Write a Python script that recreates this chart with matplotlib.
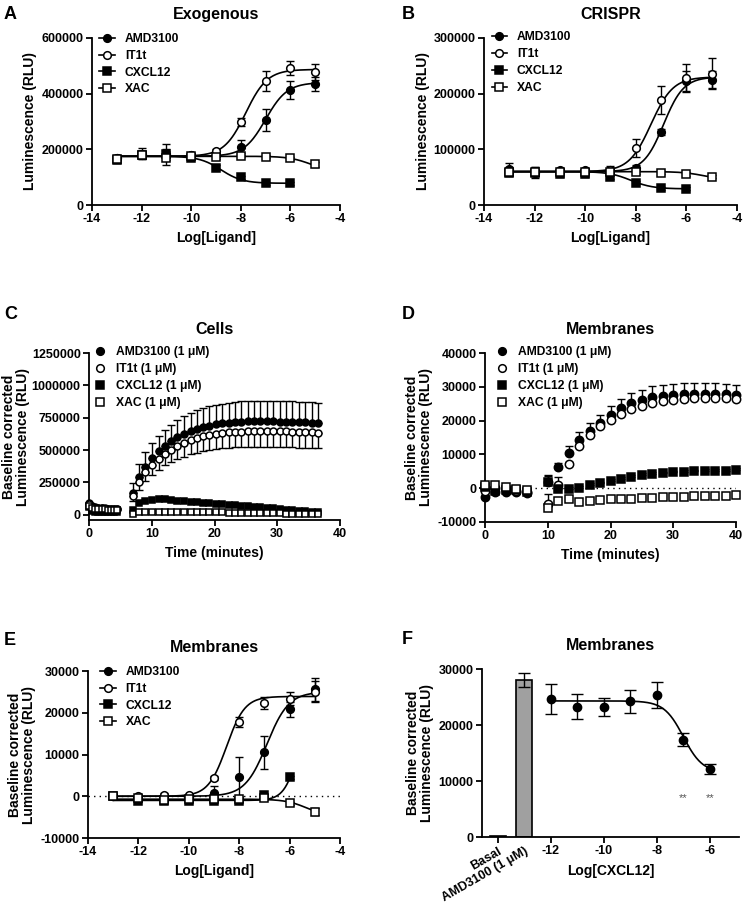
import numpy as np
import matplotlib
matplotlib.use("Agg")
import matplotlib.pyplot as plt
from matplotlib.lines import Line2D
from matplotlib.ticker import ScalarFormatter

plt.rcParams["font.family"] = ["Liberation Sans", "DejaVu Sans"]
plt.rcParams["font.weight"] = "bold"
plt.rcParams["axes.labelweight"] = "bold"
plt.rcParams["axes.titleweight"] = "bold"
plt.rcParams["axes.unicode_minus"] = False

W, H = 744, 905

# ---- dose response (A, B, E) ----
log_dose = [-13, -12, -11, -10, -9, -8, -7, -6, -5]
log_dose_cxcl = [-13, -12, -11, -10, -9, -8, -7, -6]
series_names = ["AMD3100", "IT1t", "CXCL12", "XAC"]

# A: Exogenous
a_amd = [170000, 185000, 185000, 178000, 180000, 210000, 306000, 414000, 435000]
a_amd_err = [10000, 18000, 15000, 8000, 8000, 22000, 40000, 33000, 25000]
a_it1t = [170000, 180000, 180000, 178000, 194000, 298000, 447000, 492000, 478000]
a_it1t_err = [8000, 15000, 38000, 8000, 8000, 15000, 36000, 25000, 28000]
a_cxcl = [160000, 180000, 185000, 170000, 134000, 100000, 78000, 78000]
a_cxcl_err = [8000, 10000, 10000, 8000, 8000, 5000, 5000, 5000]
a_xac = [165000, 180000, 170000, 175000, 172000, 176000, 174000, 168000, 146000]
a_xac_err = [5000, 8000, 8000, 5000, 5000, 5000, 5000, 5000, 8000]
# fitted curves: bottom, top, logEC50, hill
a_fit = {"AMD3100": (175000, 440000, -7.0, 1.0),
         "IT1t": (175000, 487000, -7.8, 1.0),
         "CXCL12": (78000, 175000, -8.8, -1.0),
         "XAC": (120000, 175000, -5.2, -1.0)}

# B: CRISPR
b_amd = [65000, 60000, 62000, 62000, 62000, 67000, 131000, 222000, 225000]
b_amd_err = [10000, 8000, 5000, 5000, 5000, 5000, 5000, 18000, 15000]
b_it1t = [60000, 58000, 60000, 60000, 62000, 103000, 189000, 228000, 236000]
b_it1t_err = [8000, 10000, 5000, 5000, 8000, 16000, 25000, 25000, 28000]
b_cxcl = [58000, 57000, 56000, 55000, 51000, 40000, 30000, 29400]
b_cxcl_err = [5000, 5000, 5000, 5000, 5000, 3000, 3000, 3000]
b_xac = [60000, 60000, 60000, 60000, 60000, 58800, 58200, 55800, 51000]
b_xac_err = [3000, 3000, 3000, 3000, 3000, 3000, 3000, 3000, 3000]
b_fit = {"AMD3100": (60000, 230000, -6.9, 1.1),
         "IT1t": (60000, 230000, -7.4, 1.0),
         "CXCL12": (29000, 60000, -8.2, -1.0),
         "XAC": (45000, 60000, -5.3, -1.0)}

# E: Membranes dose response
e_amd = [0, -600, -600, 0, 700, 4600, 10500, 20800, 25600]
e_amd_err = [500, 500, 500, 500, 1700, 4900, 3900, 1700, 2700]
e_it1t = [0, 0, 400, 300, 4300, 17800, 22300, 23400, 25000]
e_it1t_err = [300, 300, 300, 300, 500, 1200, 1500, 1500, 2500]
e_cxcl = [0, -1100, -1100, -1100, -1100, -1100, 300, 4500]
e_cxcl_err = [300, 300, 300, 300, 300, 300, 300, 300]
e_xac = [0, -500, -900, -700, -700, -700, -500, -1700, -3700]
e_xac_err = [300, 300, 300, 300, 300, 300, 300, 300, 800]
e_fit = {"AMD3100": (0, 25000, -6.9, 1.0),
         "IT1t": (0, 23900, -8.5, 1.2),
         "CXCL12": (-1000, 25000, -5.6, 1.5),
         "XAC": (-5000, -700, -5.3, -1.0)}

# ---- time courses (C, D) ----
c_t_pre = [0.0, 0.5, 1.0, 1.5, 2.0, 2.5, 3.0, 3.5, 4.0, 4.5]
c_t_post = [7.0, 8.0, 9.0, 10.1, 11.1, 12.1, 13.1, 14.1, 15.1, 16.2,
            17.2, 18.2, 19.2, 20.2, 21.2, 22.3, 23.3, 24.3, 25.3, 26.3,
            27.3, 28.4, 29.4, 30.4, 31.4, 32.4, 33.4, 34.5, 35.5, 36.5]
c_amd_pre = [90000, 70000, 60000, 55000, 50000, 50000, 48000, 48000, 46000, 45000]
c_it1t_pre = [80000, 60000, 55000, 52000, 50000, 48000, 47000, 46000, 45000, 45000]
c_cxcl_pre = [60000, 30000, 25000, 25000, 22000, 22000, 20000, 20000, 20000, 20000]
c_xac_pre = [70000, 50000, 45000, 45000, 42000, 42000, 40000, 40000, 40000, 40000]
c_amd = [172000, 296000, 373000, 438000, 490000, 528000, 567000, 600000, 625000, 645000,
         662000, 676000, 688000, 698000, 706000, 712000, 716000, 719000, 721000, 722000,
         722000, 722000, 721000, 720000, 719000, 718000, 716000, 714000, 712000, 710000]
c_amd_err = [75000, 100000, 110000, 115000, 120000, 125000, 130000, 135000, 138000, 141000,
             144000, 147000, 149000, 151000, 153000, 155000, 156000, 157000, 158000, 159000,
             160000, 160000, 160000, 160000, 160000, 160000, 159000, 158000, 157000, 156000]
c_it1t = [147000, 250000, 327000, 386000, 430000, 472000, 502000, 530000, 555000, 575000,
          592000, 605000, 615000, 624000, 631000, 636000, 640000, 643000, 645000, 646000,
          647000, 647000, 646000, 645000, 644000, 642000, 640000, 638000, 636000, 634000]
c_it1t_err = [40000, 55000, 65000, 75000, 85000, 90000, 95000, 100000, 105000, 108000,
              111000, 113000, 115000, 116000, 117000, 118000, 119000, 120000, 120000, 120000,
              120000, 120000, 120000, 120000, 120000, 120000, 120000, 120000, 120000, 120000]
c_cxcl = [38000, 90000, 103000, 116000, 121000, 121000, 116000, 110000, 105000, 101000,
          97000, 93000, 89000, 85000, 81000, 77000, 73000, 69000, 65000, 61000,
          57000, 53000, 49000, 45000, 41000, 37000, 33000, 29000, 25000, 20000]
c_xac = [10000, 20000, 25000, 25000, 25000, 24000, 23000, 22000, 22000, 21000,
         20000, 20000, 19000, 18000, 18000, 17000, 16000, 15000, 15000, 14000,
         13000, 12000, 12000, 11000, 10000, 9000, 8000, 7000, 6000, 5000]

d_t_pre = [0.0, 1.67, 3.33, 5.0, 6.67]
d_t_post = [10.0, 11.67, 13.33, 15.0, 16.67, 18.33, 20.0, 21.67, 23.33, 25.0,
            26.67, 28.33, 30.0, 31.67, 33.33, 35.0, 36.67, 38.33, 40.0]
d_amd_pre = [-2600, -1000, -1000, -1200, -1300]
d_it1t_pre = [-800, 0, -300, -800, -1000]
d_cxcl_pre = [500, -700, -500, -600, -1000]
d_xac_pre = [800, 900, 300, -300, -600]
d_amd = [1900, 6300, 10300, 14300, 17000, 19400, 21700, 23700, 25100, 26100,
         26900, 27300, 27600, 27800, 27800, 27900, 27900, 27800, 27600]
d_amd_err = [1800, 1200, 2200, 2200, 2200, 2300, 2500, 2800, 3000, 3100,
             3200, 3300, 3300, 3300, 3400, 3300, 3200, 3100, 3000]
d_it1t = [-4600, 900, 7300, 12600, 15800, 18300, 20300, 22000, 23400, 24400,
          25200, 25700, 26100, 26500, 26700, 26800, 26700, 26600, 26300]
d_it1t_err = [3000, 2500, 500, 500, 500, 500, 500, 500, 500, 500,
              500, 500, 500, 500, 500, 500, 500, 500, 500]
d_cxcl = [1900, -300, -100, 200, 900, 1400, 2200, 2700, 3400, 3900,
          4200, 4400, 4700, 4800, 5000, 5100, 5100, 5200, 5500]
d_cxcl_err = [2000, 500, 500, 500, 500, 500, 500, 500, 500, 500,
              500, 500, 500, 500, 500, 500, 500, 500, 500]
d_xac = [-6000, -3800, -3100, -4100, -3900, -3600, -3300, -3200, -3100, -3000,
         -2800, -2700, -2600, -2500, -2400, -2300, -2300, -2200, -2100]

# ---- F: Membranes, CXCL12 vs AMD3100 ----
f_bar_labels = ["Basal", "AMD3100 (1 \u03bcM)"]
f_bar_values = [100, 28000]
f_bar_err = [0, 1200]
f_log_cxcl = [-12, -11, -10, -9, -8, -7, -6]
f_values = [24600, 23300, 23200, 24200, 25400, 17400, 12100]
f_err = [2700, 2300, 1600, 2000, 2300, 1200, 900]
f_fit = (11500, 24300, -7.0, -1.2)
f_signif = [-7, -6]

YLABEL2 = "Baseline corrected\nLuminescence (RLU)"


def make_axes(fig, left, top, right, bottom):
    """Add axes given pixel edges."""
    ax = fig.add_axes([left / W, 1 - bottom / H, (right - left) / W, (bottom - top) / H])
    for s in ["top", "right"]:
        ax.spines[s].set_visible(False)
    for s in ["left", "bottom"]:
        ax.spines[s].set_linewidth(1.3)
    ax.tick_params(width=1.3, length=4, labelsize=9, pad=2)
    fmt = ScalarFormatter(useOffset=False)
    fmt.set_scientific(False)
    ax.yaxis.set_major_formatter(fmt)
    return ax


def set_ylabel(ax, text, pad=3):
    ax.set_ylabel(text, fontsize=10, linespacing=1.05, labelpad=pad)


def hill(x, params):
    """Four parameter logistic, negative hill gives a falling curve."""
    bottom, top, ec50, h = params
    return bottom + (top - bottom) / (1 + 10 ** ((ec50 - x) * h))


MARKERS = {"AMD3100": ("o", "black"), "IT1t": ("o", "white"),
           "CXCL12": ("s", "black"), "XAC": ("s", "white")}


def plot_points(ax, x, y, err, name, ms=5.5, upper_only=False, lower_only=False, z=3):
    marker, face = MARKERS[name]
    if err is not None:
        err = np.array(err)
        lo = err if not upper_only else np.zeros_like(err)
        hi = err if not lower_only else np.zeros_like(err)
        ax.errorbar(x, y, yerr=[lo, hi], fmt="none", ecolor="black", elinewidth=1,
                    capsize=3, capthick=1, zorder=z, clip_on=False)
    ax.plot(x, y, linestyle="none", marker=marker, ms=ms, mfc=face, mec="black",
            mew=1.1, zorder=z + 0.5, clip_on=False)


def dose_panel(ax, data, fits, ylim, yticks, ylabel):
    for i, (name, x, y, err) in enumerate(data):
        xs = np.linspace(min(x), max(x), 200)
        ax.plot(xs, hill(xs, fits[name]), color="black", lw=1.2, zorder=2 + i)
        plot_points(ax, x, y, err, name, z=3 + i)
    ax.set_xlim(-14, -4)
    ax.set_xticks([-14, -12, -10, -8, -6, -4])
    ax.set_ylim(*ylim)
    ax.set_yticks(yticks)
    ax.set_xlabel("Log[Ligand]", fontsize=10)
    set_ylabel(ax, ylabel)
    handles = [Line2D([], [], color="black", lw=1.2, marker=MARKERS[n][0], ms=5.5,
                      mfc=MARKERS[n][1], mec="black", mew=1.1) for n in series_names]
    return handles


def add_legend(ax, handles, labels, anchor, hl=1.3):
    ax.legend(handles, labels, loc="upper left", bbox_to_anchor=anchor, frameon=False,
              fontsize=8.7, borderaxespad=0, borderpad=0, handlelength=hl,
              handletextpad=0.8, labelspacing=0.4)


fig = plt.figure(figsize=(W / 100, H / 100), dpi=100)

# A
ax = make_axes(fig, 92, 38, 340, 205)
h = dose_panel(ax, [("AMD3100", log_dose, a_amd, a_amd_err), ("IT1t", log_dose, a_it1t, a_it1t_err),
                    ("CXCL12", log_dose_cxcl, a_cxcl, a_cxcl_err), ("XAC", log_dose, a_xac, a_xac_err)],
               a_fit, (0, 600000), [0, 200000, 400000, 600000], "Luminescence (RLU)")
add_legend(ax, h, series_names, (0.03, 1.03))
ax.set_title("Exogenous", fontsize=11.5, pad=14)

# B
ax = make_axes(fig, 484, 38, 737, 205)
h = dose_panel(ax, [("AMD3100", log_dose, b_amd, b_amd_err), ("IT1t", log_dose, b_it1t, b_it1t_err),
                    ("CXCL12", log_dose_cxcl, b_cxcl, b_cxcl_err), ("XAC", log_dose, b_xac, b_xac_err)],
               b_fit, (0, 300000), [0, 100000, 200000, 300000], "Luminescence (RLU)")
add_legend(ax, h, series_names, (0.03, 1.04))
ax.set_title("CRISPR", fontsize=11.5, pad=14)

# C
ax = make_axes(fig, 89, 353, 340, 520)
c_sets = [("AMD3100", c_amd_pre, c_amd, c_amd_err, True, False),
          ("IT1t", c_it1t_pre, c_it1t, c_it1t_err, False, True),
          ("CXCL12", c_cxcl_pre, c_cxcl, None, False, False),
          ("XAC", c_xac_pre, c_xac, None, False, False)]
for i, (name, pre, post, err, up, lo) in enumerate(c_sets):
    plot_points(ax, c_t_pre, pre, None, name, ms=5, z=3 + i)
    plot_points(ax, c_t_post, post, err, name, ms=5, upper_only=up, lower_only=lo, z=3 + i)
ax.set_xlim(0, 40)
ax.set_xticks([0, 10, 20, 30, 40])
ax.set_ylim(-40000, 1250000)
ax.set_yticks([0, 250000, 500000, 750000, 1000000, 1250000])
ax.set_xlabel("Time (minutes)", fontsize=10)
set_ylabel(ax, YLABEL2, pad=1)
lab_um = [n + " (1 \u03bcM)" for n in series_names]
hm = [Line2D([], [], ls="none", marker=MARKERS[n][0], ms=5.5, mfc=MARKERS[n][1],
             mec="black", mew=1.1) for n in series_names]
add_legend(ax, hm, lab_um, (0.02, 1.04), hl=1.0)
ax.set_title("Cells", fontsize=11.5, pad=14)

# D
ax = make_axes(fig, 485, 353, 736, 522)
d_sets = [("AMD3100", d_amd_pre, d_amd, d_amd_err),
          ("IT1t", d_it1t_pre, d_it1t, d_it1t_err),
          ("CXCL12", d_cxcl_pre, d_cxcl, d_cxcl_err),
          ("XAC", d_xac_pre, d_xac, None)]
ax.axhline(0, color="black", lw=1, ls=(0, (1, 3)), zorder=1)
for i, (name, pre, post, err) in enumerate(d_sets):
    plot_points(ax, d_t_pre, pre, None, name, ms=6, z=3 + i)
    plot_points(ax, d_t_post, post, err, name, ms=6, upper_only=True, z=3 + i)
ax.set_xlim(0, 40)
ax.set_xticks([0, 10, 20, 30, 40])
ax.set_ylim(-10000, 40000)
ax.set_yticks([-10000, 0, 10000, 20000, 30000, 40000])
ax.set_xlabel("Time (minutes)", fontsize=10)
set_ylabel(ax, YLABEL2)
add_legend(ax, hm, lab_um, (0.045, 1.04), hl=1.0)
ax.set_title("Membranes", fontsize=11.5, pad=14)

# E
ax = make_axes(fig, 88, 671, 340, 838)
ax.axhline(0, color="black", lw=1, ls=(0, (1, 3)), zorder=1)
h = dose_panel(ax, [("AMD3100", log_dose, e_amd, e_amd_err), ("IT1t", log_dose, e_it1t, e_it1t_err),
                    ("CXCL12", log_dose_cxcl, e_cxcl, e_cxcl_err), ("XAC", log_dose, e_xac, e_xac_err)],
               e_fit, (-10000, 30000), [-10000, 0, 10000, 20000, 30000], YLABEL2)
add_legend(ax, h, series_names, (0.048, 1.03))
ax.set_title("Membranes", fontsize=11.5, pad=14)

# F
ax = make_axes(fig, 482, 669, 739, 837)
bar_pos = [-14.0, -13.0]
ax.bar(bar_pos, f_bar_values, width=0.6, color="#a0a0a0", edgecolor="black", lw=1.2, zorder=2)
ax.errorbar(bar_pos[1], f_bar_values[1], yerr=f_bar_err[1], fmt="none", ecolor="black",
            elinewidth=1, capsize=4, capthick=1, zorder=3)
xs = np.linspace(-12, -6, 200)
ax.plot(xs, hill(xs, f_fit), color="black", lw=1.2, zorder=3)
ax.errorbar(f_log_cxcl, f_values, yerr=f_err, fmt="o", color="black", ms=6,
            elinewidth=1, capsize=4, capthick=1, zorder=4)
for xv in f_signif:
    ax.text(xv, 7000, "**", ha="center", va="center", fontsize=8, color="#555555",
            fontweight="normal")
ax.set_xlim(-14.6, -4.9)
ax.set_xticks(bar_pos + [-12, -10, -8, -6])
ax.set_xticklabels(f_bar_labels + ["-12", "-10", "-8", "-6"])
ax.xaxis.get_major_ticks()[1].tick1line.set_visible(False)
for lbl in ax.get_xticklabels()[:2]:
    lbl.set_rotation(30)
    lbl.set_ha("right")
    lbl.set_rotation_mode("anchor")
ax.set_ylim(0, 30000)
ax.set_yticks([0, 10000, 20000, 30000])
ax.set_xlabel("Log[CXCL12]", fontsize=10)
ax.xaxis.set_label_coords(0.5, -0.16)
set_ylabel(ax, YLABEL2)
ax.set_title("Membranes", fontsize=11.5, pad=14)

# panel letters
for letter, x, y in [("A", 4, 6), ("B", 402, 6), ("C", 4, 306), ("D", 402, 306),
                     ("E", 4, 632), ("F", 402, 631)]:
    fig.text(x / W, 1 - y / H, letter, fontsize=13, fontweight="bold", va="top", ha="left")

fig.savefig("out.png", dpi=100)
